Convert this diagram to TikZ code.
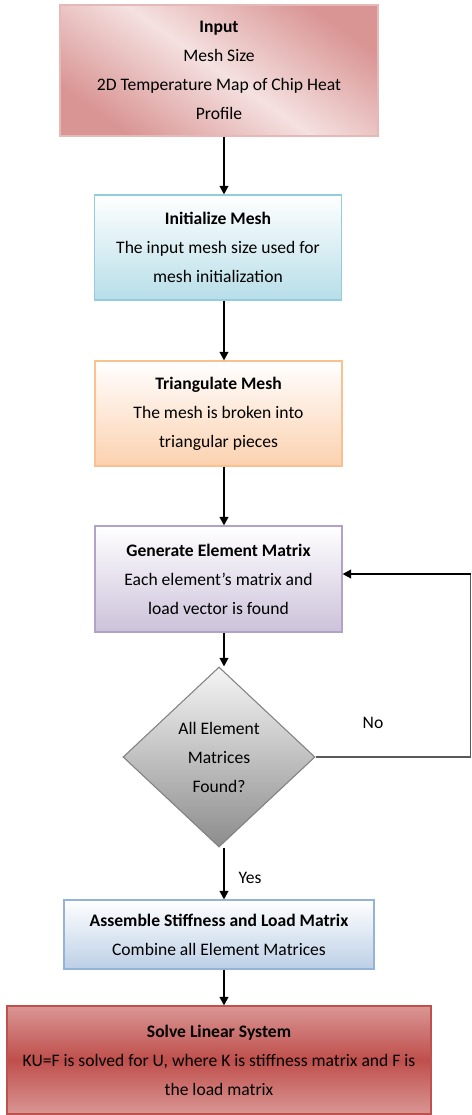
\documentclass[tikz,border=0pt]{standalone}
\usepackage{fontspec}
\setmainfont{Carlito}
\usetikzlibrary{positioning,arrows.meta,calc,shapes.geometric}
\definecolor{InRed}{HTML}{D99594}
\definecolor{InLight}{HTML}{F4E1E0}
\definecolor{InEdge}{HTML}{E6B9B8}
\definecolor{MeshBlue}{HTML}{B7DEE8}
\definecolor{MeshEdge}{HTML}{93CDDD}
\definecolor{TriPeach}{HTML}{FBD1AF}
\definecolor{TriEdge}{HTML}{FAC090}
\definecolor{GenLilac}{HTML}{CCC1DA}
\definecolor{GenEdge}{HTML}{B3A2C7}
\definecolor{AsmBlue}{HTML}{BCCFE6}
\definecolor{AsmEdge}{HTML}{95B3D7}
\definecolor{SolRed}{HTML}{D99694}
\definecolor{SolDark}{HTML}{BF4F4C}
\definecolor{SolEdge}{HTML}{C0504D}

\begin{document}
\begin{tikzpicture}[
        stage/.style={draw, semithick, align=center, inner sep=3pt,
                      font=\fontsize{10}{16.5}\selectfont},
        check/.style={diamond, draw=black!50, semithick, inner sep=0pt,
                      align=center, font=\fontsize{10}{16.5}\selectfont,
                      top color=black!4, bottom color=black!45},
        flow/.style={line width=1.1pt, -{Triangle[length=1.7mm,width=1.7mm]}},
      ]
      \useasboundingbox (0,0) rectangle (9.44,-22.3);
      \coordinate (spine) at (4.48,0);
      \coordinate (back) at (9.41,-11.48);

      \node[stage, draw=InEdge, top color=InRed, bottom color=InRed,
            middle color=InLight, shading angle=-35,
            minimum width=63.6mm, minimum height=26.2mm] (in) at (4.38,-1.41)
            {\textbf{Input}\\Mesh Size\\2D Temperature Map of Chip Heat\\Profile};
      \node[stage, draw=MeshEdge, top color=white, bottom color=MeshBlue,
            minimum width=49.4mm, minimum height=21mm] (init) at (4.36,-4.95)
            {\textbf{Initialize Mesh}\\The input mesh size used for\\mesh initialization};
      \node[stage, draw=TriEdge, top color=white, bottom color=TriPeach,
            minimum width=49.4mm, minimum height=21mm] (tri) at (4.37,-8.27)
            {\textbf{Triangulate Mesh}\\The mesh is broken into\\triangular pieces};
      \node[stage, draw=GenEdge, top color=white, bottom color=GenLilac,
            minimum width=49.4mm, minimum height=21.2mm] (gen) at (4.37,-11.58)
            {\textbf{Generate Element Matrix}\\Each element’s matrix and\\load vector is found};
      \node[check, minimum width=38.4mm, minimum height=36mm] (chk) at (4.38,-15.14)
            {All Element\\Matrices\\Found?};
      \node[stage, draw=AsmEdge, top color=white, bottom color=AsmBlue,
            minimum width=62mm, minimum height=13.8mm] (asm) at (4.38,-18.69)
            {\textbf{Assemble Stiffness and Load Matrix}\\Combine all Element Matrices};
      \node[stage, draw=SolEdge, top color=SolRed, bottom color=SolRed,
            middle color=SolDark,
            minimum width=84.8mm, minimum height=21.6mm] (sol) at (4.38,-21.2)
            {\textbf{Solve Linear System}\\KU=F is solved for U, where K is stiffness matrix and F is\\the load matrix};

      \draw[flow] (in.south -| spine) -- (init.north -| spine);
      \draw[flow] (init.south -| spine) -- (tri.north -| spine);
      \draw[flow] (tri.south -| spine) -- (gen.north -| spine);
      \draw[flow] (gen.south -| spine) -- (chk.north -| spine);
      \draw[flow] (chk.south -| spine) -- (asm.north -| spine);
      \draw[flow] (asm.south -| spine) -- (sol.north -| spine);
      \draw[black!65, line width=0.7pt] (chk.east) -| (back);
      \draw[flow] (back) -- (gen.east |- back);

      \node[font=\fontsize{10}{12}\selectfont] (lbno) at (7.46,-14.46) {No};
      \node[font=\fontsize{10}{12}\selectfont] (lbyes) at (5.0,-17.56) {Yes};
    \end{tikzpicture}
\end{document}
